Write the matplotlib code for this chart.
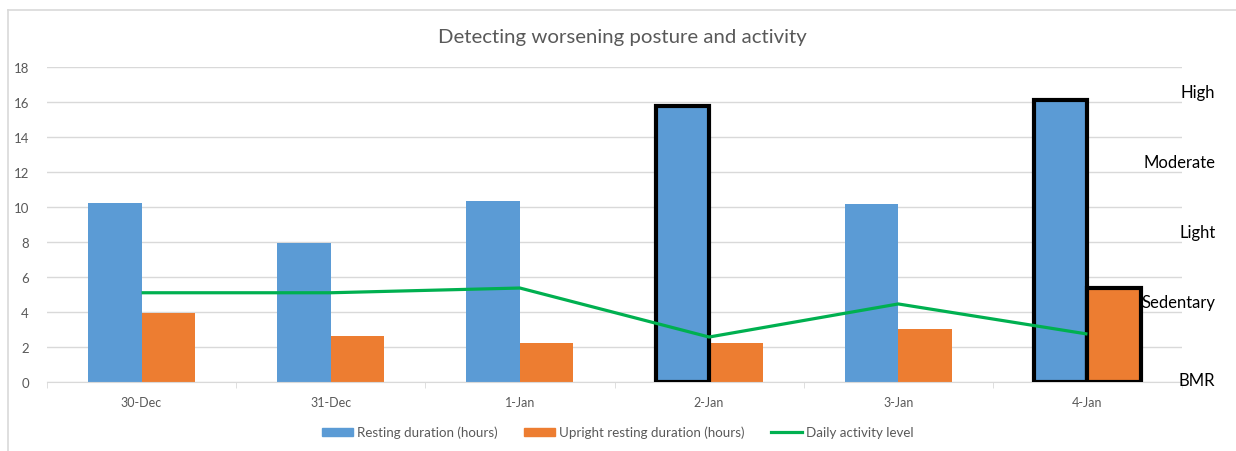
import numpy as np
import matplotlib.pyplot as plt
from matplotlib.lines import Line2D
import matplotlib.transforms as mtransforms

# data
dates = ['30-Dec', '31-Dec', '1-Jan', '2-Jan', '3-Jan', '4-Jan']
resting = [10.25, 7.95, 10.35, 15.8, 10.2, 16.1]
upright = [3.95, 2.62, 2.23, 2.23, 3.03, 5.37]
activity = [5.1, 5.1, 5.37, 2.57, 4.46, 2.74]
levels = ['BMR', 'Sedentary', 'Light', 'Moderate', 'High']
# bars that get a thick black outline
flag_resting = [False, False, False, True, False, True]
flag_upright = [False, False, False, False, False, True]

blue = '#5B9BD5'
orange = '#ED7D31'
green = '#00B050'
grey = '#595959'

plt.rcParams['font.family'] = ['Lato', 'DejaVu Sans']

fig = plt.figure(figsize=(12.36, 4.52), dpi=100)
ax = fig.add_axes([47/1236, 1-383/452, (1182-47)/1236, (383-68)/452])

x = np.arange(len(dates))
w = 0.283
b1 = ax.bar(x - w/2, resting, w, color=blue, zorder=2, label='Resting duration (hours)')
b2 = ax.bar(x + w/2, upright, w, color=orange, zorder=2, label='Upright resting duration (hours)')
for bar, f in zip(b1, flag_resting):
    if f:
        bar.set_edgecolor('black'); bar.set_linewidth(3); bar.set_zorder(3)
for bar, f in zip(b2, flag_upright):
    if f:
        bar.set_edgecolor('black'); bar.set_linewidth(3); bar.set_zorder(3)
ax.plot(x, activity, color=green, lw=2.3, zorder=4, solid_capstyle='butt',
        label='Daily activity level')

ax.set_xlim(-0.5, len(dates) - 0.5)
ax.set_ylim(0, 18)
ax.set_yticks(range(0, 19, 2))
ax.set_xticks(x)
ax.set_xticklabels(dates)
ax.set_xticks(np.arange(-0.5, len(dates), 1), minor=True)
ax.tick_params(axis='x', which='major', length=0, colors=grey, labelsize=9, pad=10)
ax.tick_params(axis='x', which='minor', length=4, color='#d9d9d9')
ax.tick_params(axis='y', length=0, colors=grey, labelsize=9.5, pad=13)
ax.grid(axis='y', color='#d9d9d9', lw=1, zorder=0)
ax.set_axisbelow(True)
for s in ['top', 'right', 'left']:
    ax.spines[s].set_visible(False)
ax.spines['bottom'].set_color('#d9d9d9')

# activity level labels on the right
trans = mtransforms.blended_transform_factory(ax.transAxes, ax.transData)
for i, lab in enumerate(levels):
    ax.text(1.0295, i * 4 + (0.1 if i == 0 else 0.57), lab, transform=trans,
            ha='right', va='center', fontsize=12, color='black')

fig.text(622/1236, 1-37/452, 'Detecting worsening posture and activity',
         ha='center', va='center', fontsize=14.7, color=grey)

handles = [plt.Rectangle((0, 0), 1, 1, color=blue),
           plt.Rectangle((0, 0), 1, 1, color=orange),
           Line2D([0], [0], color=green, lw=2.3)]
labels = ['Resting duration (hours)', 'Upright resting duration (hours)', 'Daily activity level']
leg = fig.legend(handles, labels, loc='center', bbox_to_anchor=(0.5, 1-433/452), ncol=3,
                 frameon=False, fontsize=9.6, handlelength=2.3, handleheight=0.55,
                 columnspacing=2.0, handletextpad=0.3)
for t in leg.get_texts():
    t.set_color(grey)

# chart area border (top and left, as cropped in the original)
fig.add_artist(Line2D([8/1236, 1], [1-11/452, 1-11/452], color='#d9d9d9', lw=1.2))
fig.add_artist(Line2D([8/1236, 8/1236], [0, 1-11/452], color='#d9d9d9', lw=1.2))

fig.savefig('out.png', dpi=100)
